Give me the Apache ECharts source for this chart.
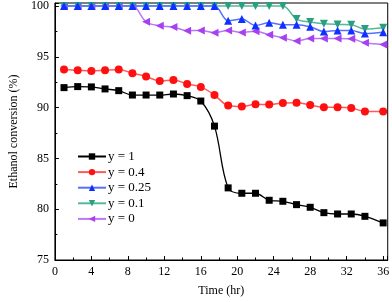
<!DOCTYPE html>
<html>
<head>
<meta charset="utf-8">
<script src="https://cdn.jsdelivr.net/npm/echarts@6/dist/echarts.min.js"></script>
<style>
html,body{margin:0;padding:0;background:#fff;}
#chart{width:392px;height:302px;}
</style>
</head>
<body>
<div id="chart"></div>
<script>
const timeHr = [1, 2.5, 4, 5.5, 7, 8.5, 10, 11.5, 13, 14.5, 16, 17.5, 19, 20.5, 22, 23.5, 25, 26.5, 28, 29.5, 31, 32.5, 34, 36];
const seriesNames = ['y = 1', 'y = 0.4', 'y = 0.25', 'y = 0.1', 'y = 0'];
const y1 = [91.97, 92.07, 92.04, 91.84, 91.67, 91.24, 91.24, 91.24, 91.34, 91.18, 90.65, 88.18, 82.1, 81.57, 81.57, 80.88, 80.78, 80.45, 80.19, 79.66, 79.53, 79.53, 79.3, 78.65];
const y04 = [93.75, 93.68, 93.61, 93.68, 93.75, 93.39, 93.06, 92.63, 92.73, 92.33, 92.04, 91.24, 90.2, 90.1, 90.33, 90.3, 90.46, 90.49, 90.26, 90.03, 90.03, 89.96, 89.63, 89.63];
const y025 = [100, 100, 100, 100, 100, 100, 100, 100, 100, 100, 100, 100, 98.55, 98.72, 98.09, 98.35, 98.16, 98.16, 97.96, 97.5, 97.6, 97.6, 97.3, 97.43];
const y01 = [100, 100, 100, 100, 100, 100, 100, 100, 100, 100, 100, 100, 100, 100, 100, 100, 100, 98.72, 98.42, 98.25, 98.19, 98.16, 97.73, 97.86];
const y0 = [100, 100, 100, 100, 100, 100, 98.45, 98.06, 97.93, 97.57, 97.6, 97.37, 97.6, 97.4, 97.53, 97.17, 96.87, 96.57, 96.8, 96.8, 96.8, 96.77, 96.38, 96.22];
const allValues = [y1, y04, y025, y01, y0];

const colors = ['#000000', '#ff1010', '#1030ff', '#2a9e80', '#a640f0'];
const lineColors = ['#000000', '#ff5a5a', '#5570ff', '#55b89c', '#bb77f5'];
const symbols = ['rect', 'circle', 'triangle', 'path://M0,0 L10,0 L5,9 Z', 'path://M0,5 L9,0 L9,10 Z'];
const symbolSizes = [7, 8, 8, 8, 8];

const font = '"Liberation Serif", "DejaVu Serif", serif';

const series = allValues.map((vals, i) => ({
  name: seriesNames[i],
  type: 'line',
  data: timeHr.map((t, j) => [t, vals[j]]),
  smooth: 0.35,
  symbol: symbols[i],
  symbolSize: symbolSizes[i],
  showSymbol: true,
  itemStyle: { color: colors[i] },
  lineStyle: { color: lineColors[i], width: i === 0 ? 1.3 : 1.5 },
  z: 10 - i
}));

const chart = echarts.init(document.getElementById('chart'), null, { renderer: 'canvas' });
chart.setOption({
  animation: false,
  backgroundColor: '#fff',
  grid: { left: 43, right: 3, top: 3, bottom: 42, show: true, borderColor: '#000', borderWidth: 1, backgroundColor: 'transparent' },
  legend: {
    orient: 'vertical',
    left: 77,
    top: 150,
    padding: 0,
    itemWidth: 28,
    itemHeight: 8,
    itemGap: 2.6,
    textStyle: { fontFamily: font, fontSize: 13, color: '#000', padding: [0, 0, 0, -3] },
    data: seriesNames
  },
  xAxis: {
    type: 'value',
    min: 0,
    max: 36.5,
    interval: 4,
    name: 'Time (hr)',
    nameLocation: 'middle',
    nameGap: 25,
    nameTextStyle: { fontFamily: font, fontSize: 12, color: '#000' },
    axisLine: { lineStyle: { color: '#000', width: 1 } },
    axisTick: { inside: true, length: 4, lineStyle: { color: '#000' } },
    minorTick: { show: true, splitNumber: 2, length: 2.5, lineStyle: { color: '#000' } },
    axisLabel: { fontFamily: font, fontSize: 12, color: '#000', margin: 6 },
    splitLine: { show: false }
  },
  yAxis: {
    type: 'value',
    min: 75,
    max: 100.3,
    interval: 5,
    name: 'Ethanol conversion (%)',
    nameLocation: 'middle',
    nameGap: 33,
    nameTextStyle: { fontFamily: font, fontSize: 12, color: '#000' },
    axisLine: { lineStyle: { color: '#000', width: 1 } },
    axisTick: { inside: true, length: 4, lineStyle: { color: '#000' } },
    minorTick: { show: true, splitNumber: 2, length: 2.5, lineStyle: { color: '#000' } },
    axisLabel: { fontFamily: font, fontSize: 12, color: '#000', margin: 6 },
    splitLine: { show: false }
  },
  series: series
});
</script>
</body>
</html>
